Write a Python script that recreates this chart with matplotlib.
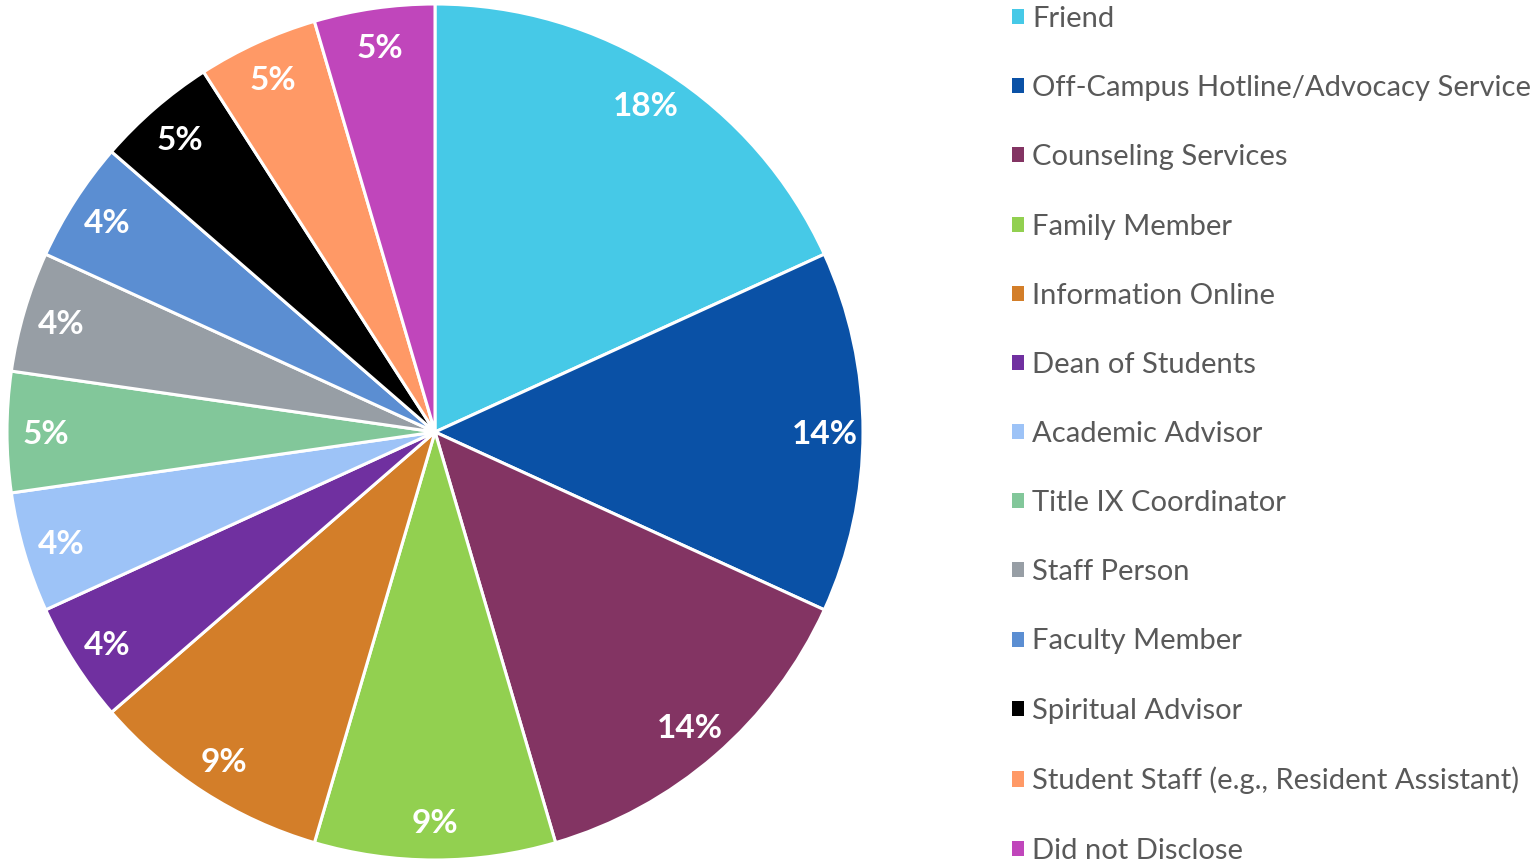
import matplotlib
matplotlib.use("Agg")
import matplotlib.pyplot as plt

sources = ['Friend', 'Off-Campus Hotline/Advocacy Service', 'Counseling Services',
           'Family Member', 'Information Online', 'Dean of Students', 'Academic Advisor',
           'Title IX Coordinator', 'Staff Person', 'Faculty Member', 'Spiritual Advisor',
           'Student Staff (e.g., Resident Assistant)', 'Did not Disclose']
counts = [4, 3, 3, 2, 2, 1, 1, 1, 1, 1, 1, 1, 1]
pct_labels = ['18%', '14%', '14%', '9%', '9%', '4%', '4%', '5%', '4%', '4%', '5%', '5%', '5%']
colors = ['#46C9E7', '#0A51A6', '#833463', '#92D050', '#D37E29', '#7030A0', '#9DC3F7',
          '#82C79A', '#979EA5', '#5B8ED2', '#000000', '#FF9966', '#C046BB']

plt.rcParams['font.family'] = ['Lato', 'DejaVu Sans']

W, H = 1537, 865
fig = plt.figure(figsize=(W / 100, H / 100), dpi=100)

# pie centre (435, 432) px, radius 428 px
cx, cy, r = 435, 432, 428
ax = fig.add_axes([(cx - r) / W, (H - cy - r) / H, 2 * r / W, 2 * r / H])
wedges, texts = ax.pie(counts, labels=pct_labels, colors=colors, startangle=90,
                       counterclock=False, labeldistance=0.91, radius=1,
                       wedgeprops=dict(edgecolor='white', linewidth=2.2),
                       textprops=dict(color='white', fontsize=24, fontweight='bold'))
for t in texts:
    t.set_ha('center')
    t.set_va('center_baseline')
ax.set_xlim(-1, 1)
ax.set_ylim(-1, 1)
ax.set_aspect('equal')
ax.axis('off')

leg = fig.legend(wedges, sources, loc='upper left',
                 bbox_to_anchor=(1012 / W, 1 - 6 / H), frameon=False,
                 fontsize=21, labelcolor='#595959',
                 handlelength=0.42, handleheight=0.42, handletextpad=0.27,
                 labelspacing=1.48, borderaxespad=0, borderpad=0)
for h in leg.legend_handles:
    h.set_edgecolor('none')

fig.savefig('out.png', dpi=100)
